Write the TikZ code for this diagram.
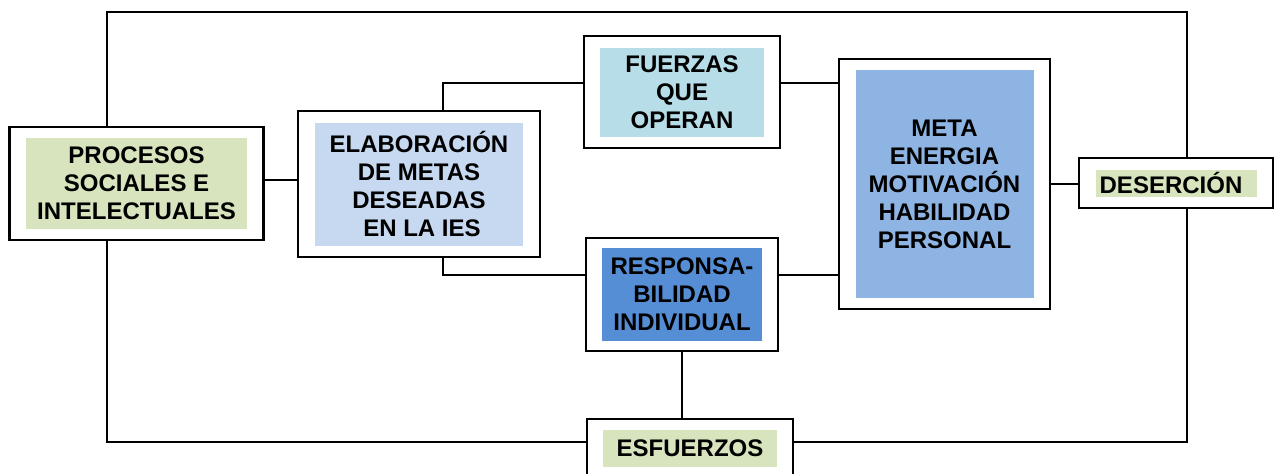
\documentclass[tikz,border=0pt]{standalone}
\usepackage{fontspec}
\setmainfont{Liberation Sans}
\definecolor{verde}{HTML}{D7E4BD}
\definecolor{celeste}{HTML}{C6D9F1}
\definecolor{turquesa}{HTML}{B7DDE8}
\definecolor{azul}{HTML}{558ED5}
\definecolor{azulclaro}{HTML}{8EB4E3}
\tikzset{
  frame/.style={draw, line width=2.2pt, fill=white, inner sep=0pt},
  core/.style={fill=#1, inner sep=0pt, align=center, font=\bfseries\fontsize{24}{28}\selectfont},
  wire/.style={line width=2pt}
}
\begin{document}
\begin{tikzpicture}[x=1pt,y=-1pt]
\useasboundingbox (0,0) rectangle (1278,474);
    \node[frame, minimum width=254, minimum height=113] (proc) at (136.5,183.5) {};
    \node[core=verde, minimum width=221, minimum height=91] (procin) at (proc.center) {PROCESOS\\SOCIALES E\\INTELECTUALES};
    \node[frame, minimum width=242, minimum height=146] (elab) at (419,184) {};
    \node[core=celeste, minimum width=208, minimum height=123] (elabin) at (elab.center) {ELABORACIÓN\\DE METAS\\DESEADAS\\\hspace*{6pt}EN LA IES};
    \node[frame, minimum width=196, minimum height=112] (fuer) at (682,92) {};
    \node[core=turquesa, minimum width=164, minimum height=89] (fuerin) at (fuer.center) {FUERZAS\\QUE\\OPERAN};
    \node[frame, minimum width=192, minimum height=113] (resp) at (682,294.5) {};
    \node[core=azul, minimum width=160, minimum height=93] (respin) at (resp.center) {RESPONSA-\\BILIDAD\\INDIVIDUAL};
    \node[frame, minimum width=211, minimum height=250] (meta) at (944.5,184) {};
    \node[core=azulclaro, minimum width=178, minimum height=228] (metain) at (meta.center) {META\\ENERGIA\\MOTIVACIÓN\\HABILIDAD\\PERSONAL};
    \node[frame, minimum width=194, minimum height=50] (des) at (1176,183) {};
    \node[core=verde, minimum width=161, minimum height=27] (desin) at (des.center) {DESERCIÓN\hspace{10pt}};
    \node[frame, minimum width=206, minimum height=59] (esf) at (690,448.5) {};
    \node[core=verde, minimum width=174, minimum height=37] (esfin) at (esf.center) {ESFUERZOS};
    \coordinate (tr) at (1187,12);
    \draw[wire] ([yshift=4]proc.east) -- ([yshift=4]proc.east -| elab.west);
    \draw[wire] ([xshift=24]elab.north) |- ([yshift=9]fuer.west);
    \draw[wire] ([xshift=24]elab.south) |- ([yshift=19.5]resp.west);
    \draw[wire] ([yshift=9]fuer.east) -- ([yshift=9]fuer.east -| meta.west);
    \draw[wire] ([yshift=19.5]resp.east) -- ([yshift=19.5]resp.east -| meta.west);
    \draw[wire] (meta.east) -- (meta.east -| des.west);
    \draw[wire] (resp.south) -- (resp.south |- esf.north);
    \draw[wire] ([xshift=-29.5]proc.north) |- (tr) -- (tr |- des.north);
    \draw[wire] ([xshift=-29.5]proc.south) |- ([yshift=6.5]esf.west);
    \draw[wire] ([yshift=6.5]esf.east) -| (tr |- des.south);
\end{tikzpicture}
\end{document}
